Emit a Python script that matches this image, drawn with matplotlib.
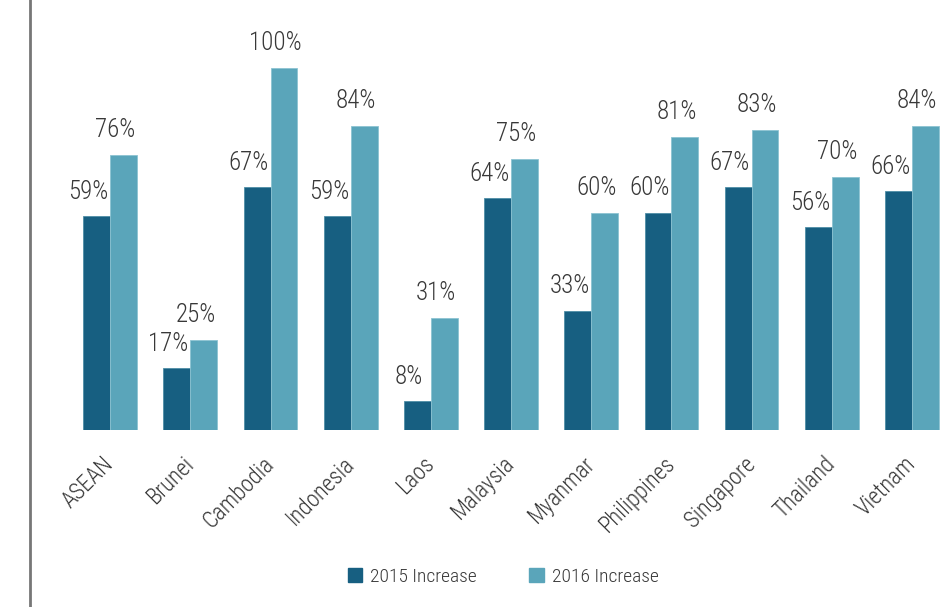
import numpy as np
import matplotlib.pyplot as plt
from matplotlib.lines import Line2D
from matplotlib.patches import Patch

plt.rcParams['font.family'] = ['Roboto Condensed', 'Archivo Narrow', 'Liberation Sans', 'DejaVu Sans']
plt.rcParams['font.weight'] = 'light'

countries = ['ASEAN', 'Brunei', 'Cambodia', 'Indonesia', 'Laos', 'Malaysia',
             'Myanmar', 'Philippines', 'Singapore', 'Thailand', 'Vietnam']
inc_2015 = [59, 17, 67, 59, 8, 64, 33, 60, 67, 56, 66]
inc_2016 = [76, 25, 100, 84, 31, 75, 60, 81, 83, 70, 84]

dark = '#175f81'
light = '#5aa5ba'
txt = '#383838'

W, H = 948, 607
fig = plt.figure(figsize=(W / 100, H / 100), dpi=100)
ax = fig.add_axes([30 / W, 177 / H, 1 - 30 / W, 430 / H])

x = np.arange(len(countries))
bw = 0.335
ax.bar(x - bw / 2, inc_2015, bw, color=dark, edgecolor='#4f8ea6', linewidth=0.6)
ax.bar(x + bw / 2, inc_2016, bw, color=light, edgecolor='#8cc3d2', linewidth=0.6)

for xi, a, b in zip(x, inc_2015, inc_2016):
    ax.annotate(f'{a}%', (xi - bw / 2, a), xytext=(-6, 9), textcoords='offset points',
                ha='center', va='bottom', fontsize=18, color=txt)
    ax.annotate(f'{b}%', (xi + bw / 2, b), xytext=(-6, 9), textcoords='offset points',
                ha='center', va='bottom', fontsize=18, color=txt)

ax.set_xlim(-1.0, 10.45)
ax.set_ylim(0, 430 / 3.62)
ax.set_xticks(x)
ax.set_xticklabels(countries, rotation=45, ha='right', va='center',
                   rotation_mode='anchor', fontsize=16.5, color=txt)
ax.tick_params(axis='x', length=0, pad=22)
ax.set_yticks([])
for s in ax.spines.values():
    s.set_visible(False)

fig.add_artist(Line2D([30 / W, 30 / W], [0, 1], transform=fig.transFigure,
                      color='#777777', linewidth=2))

handles = [Patch(facecolor=dark, edgecolor=dark), Patch(facecolor=light, edgecolor=light)]
fig.legend(handles, ['2015 Increase', '2016 Increase'], loc='center',
           bbox_to_anchor=(503 / W, 30 / H), ncol=2, frameon=False, fontsize=14,
           handlelength=0.75, handleheight=0.75, handletextpad=0.4, columnspacing=2.7,
           labelcolor=txt)

fig.savefig('out.png', dpi=100)
